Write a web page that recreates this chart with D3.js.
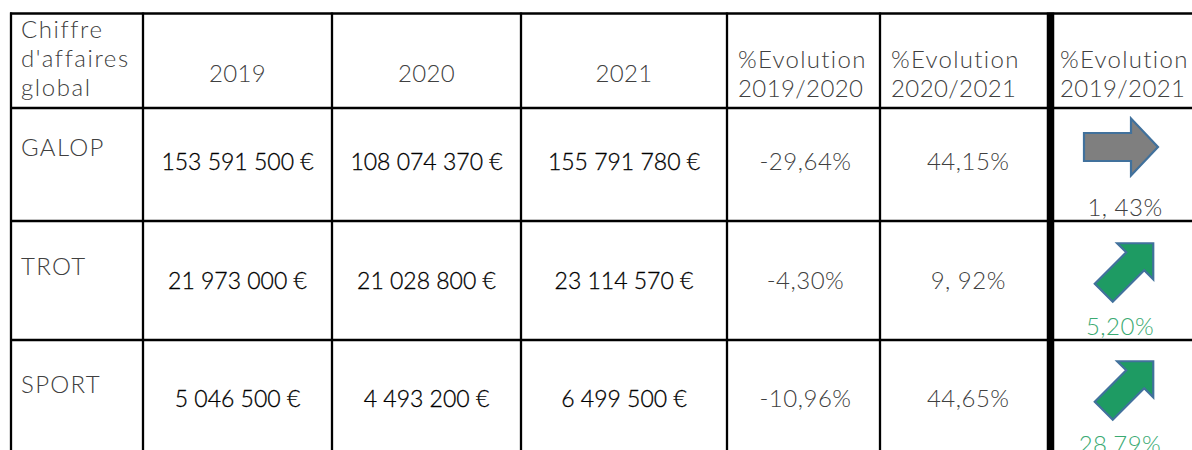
<!DOCTYPE html>
<html>
<head>
<meta charset="utf-8">
<script src="https://cdn.jsdelivr.net/npm/d3@7"></script>
<style>
  html, body { margin: 0; padding: 0; background: #fff; }
  svg { display: block; }
</style>
</head>
<body>
<svg id="chart" width="1192" height="450"></svg>
<script>
// ---- data ----
const categories = ["GALOP", "TROT", "SPORT"];
const years = ["2019", "2020", "2021"];
const values2019 = [153591500, 21973000, 5046500];
const values2020 = [108074370, 21028800, 4493200];
const values2021 = [155791780, 23114570, 6499500];
const evo1920 = ["-29,64%", "-4,30%", "-10,96%"];
const evo2021 = ["44,15%", "9, 92%", "44,65%"];
const evo1921 = ["1, 43%", "5,20%", "28,79%"];
const trend = ["flat", "up", "up"];
const headerFirst = ["Chiffre", "d'affaires", "global"];
const evoHeaders = [["%Evolution", "2019/2020"], ["%Evolution", "2020/2021"], ["%Evolution", "2019/2021"]];

// ---- layout ----
const svg = d3.select("#chart");
const colEdges = [11, 143, 332, 521, 727, 880, 1050.5, 1215];
const rowEdges = [13.5, 108, 221, 340, 460];
const x = d3.scaleOrdinal().domain(d3.range(colEdges.length)).range(colEdges);
const y = d3.scaleOrdinal().domain(d3.range(rowEdges.length)).range(rowEdges);
const colMid = i => (x(i) + x(i + 1)) / 2;
const rowAnchor = [113, 232, 350]; // content anchor per data row

const font = "Lato, 'Noto Sans', sans-serif";
const grey = "#404040";
const fs = 24;
const fmt = v => d3.format(",")(v).replace(/,/g, " ") + " €";

function label(sel, ls) {
  return sel.attr("font-family", font).attr("font-weight", 300).attr("font-size", fs)
    .attr("fill", grey).attr("letter-spacing", ls);
}

// grid lines
const g = svg.append("g");
rowEdges.forEach((yy, i) => {
  g.append("line").attr("x1", 10).attr("x2", 1192).attr("y1", y(i)).attr("y2", y(i))
    .attr("stroke", "#000").attr("stroke-width", 2.3);
});
colEdges.slice(0, 7).forEach((xx, i) => {
  g.append("line").attr("x1", x(i)).attr("x2", x(i)).attr("y1", 12.5).attr("y2", 450)
    .attr("stroke", "#000").attr("stroke-width", i === 6 ? 7.5 : 2.3);
});

// header
headerFirst.forEach((t, i) => {
  label(svg.append("text").attr("x", 21).attr("y", 38 + i * 29).text(t), 1.6);
});
years.forEach((t, i) => {
  label(svg.append("text").attr("x", colMid(i + 1)).attr("y", 82).attr("text-anchor", "middle").text(t), 0.3);
});
evoHeaders.forEach((lines, i) => {
  lines.forEach((t, j) => {
    label(svg.append("text").attr("x", x(i + 4) + (i === 2 ? 9.5 : 11)).attr("y", 68 + j * 29).text(t), j === 0 ? 1.3 : 0.4);
  });
});

// rows
const series = [values2019, values2020, values2021];
categories.forEach((cat, r) => {
  const top = rowAnchor[r];
  label(svg.append("text").attr("x", 21).attr("y", top + 43).text(cat), 1.3);
  series.forEach((s, c) => {
    svg.append("text").attr("x", colMid(c + 1)).attr("y", top + 57).attr("text-anchor", "middle")
      .text(fmt(s[r])).attr("font-family", font).attr("font-weight", 300).attr("font-size", 23)
      .attr("fill", "#000").attr("stroke", "#000").attr("stroke-width", 0.3);
  });
  [evo1920, evo2021].forEach((s, c) => {
    label(svg.append("text").attr("x", colMid(c + 4) + (c === 1 ? 3 : 2)).attr("y", top + 57)
      .attr("text-anchor", "middle").text(s[r]), 0.5);
  });
  const up = trend[r] === "up";
  label(svg.append("text").attr("x", up ? 1120 : 1125).attr("y", top + 103).attr("text-anchor", "middle")
    .text(evo1921[r]), 0.5).attr("fill", up ? "#3aaa72" : grey);

  // arrow
  let L, s, h, H, cx, cy, rot, fill;
  if (up) { L = 70; s = 12.7; h = 25.5; H = 25.5; cx = 1128.5; cy = top + 36; rot = -45; fill = "#1e9b63"; }
  else { L = 74; s = 14; h = 28.5; H = 27; cx = 1121; cy = top + 34; rot = 0; fill = "#7f7f7f"; }
  const pts = [[-L / 2, -s], [L / 2 - H, -s], [L / 2 - H, -h], [L / 2, 0], [L / 2 - H, h], [L / 2 - H, s], [-L / 2, s]];
  svg.append("path").attr("d", d3.line()(pts) + "Z")
    .attr("transform", `translate(${cx},${cy}) rotate(${rot})`)
    .attr("fill", fill).attr("stroke", "#41719c").attr("stroke-width", 2.2).attr("stroke-linejoin", "miter");
});
</script>
</body>
</html>
